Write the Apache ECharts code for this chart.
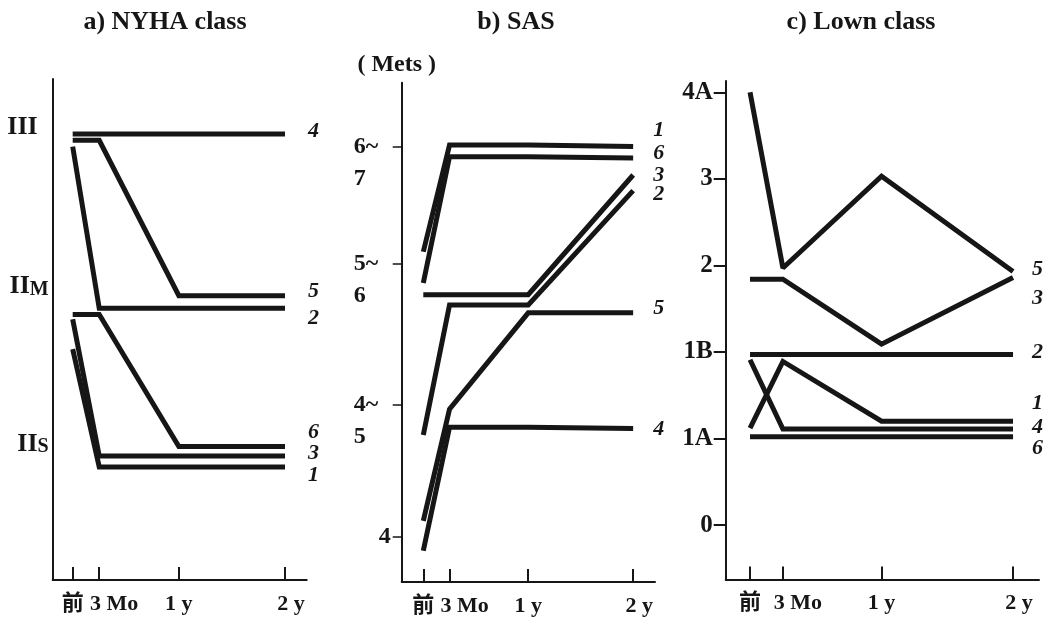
<!DOCTYPE html>
<html><head><meta charset="utf-8">
<script src="https://cdn.jsdelivr.net/npm/echarts@6/dist/echarts.min.js"></script>
<style>html,body{margin:0;padding:0;background:#fff}#c{width:1049px;height:617px}</style>
</head><body><div id="c"></div>
<script>
// ---- data ----
const months = [0, 3, 12, 24];
const xTickLabels = ['前', '3 Mo', '1 y', '2 y'];
const panelTitles = ['a) NYHA class', 'b) SAS', 'c) Lown class'];
const seriesNames = ['1', '2', '3', '4', '5', '6'];

const nyhaTickValues = [1, 2, 3];
const nyhaTickLabels = ['IIS', 'IIM', 'III'];
const nyha1 = [1.59, 0.84, 0.84, 0.84];
const nyha2 = [2.88, 1.85, 1.85, 1.85];
const nyha3 = [1.78, 0.91, 0.91, 0.91];
const nyha4 = [2.96, 2.96, 2.96, 2.96];
const nyha5 = [2.92, 2.92, 1.93, 1.93];
const nyha6 = [1.81, 1.81, 0.97, 0.97];

const sasTickValues = [0, 1.01, 2.1, 3];
const sasTickLabels = ['4', '4~\n5', '5~\n6', '6~\n7'];
const sasAxisName = '( Mets )';
const sas1 = [2.19, 3.01, 3.01, 3.00];
const sas2 = [0.78, 1.78, 1.78, 2.66];
const sas3 = [1.86, 1.86, 1.86, 2.78];
const sas4 = [-0.11, 0.84, 0.84, 0.83];
const sas5 = [0.12, 0.98, 1.72, 1.72];
const sas6 = [1.95, 2.92, 2.92, 2.91];

const lownTickValues = [0, 1, 2, 3, 4, 5];
const lownTickLabels = ['0', '1A', '1B', '2', '3', '4A'];
const lown1 = [1.12, 1.89, 1.20, 1.20];
const lown2 = [1.97, 1.97, 1.97, 1.97];
const lown3 = [2.84, 2.84, 2.09, 2.86];
const lown4 = [1.91, 1.11, 1.11, 1.11];
const lown5 = [5.00, 2.97, 4.03, 2.93];
const lown6 = [1.02, 1.02, 1.02, 1.02];

// ---- layout / style ----
const SERIF = '"Liberation Serif", "Times New Roman", "Noto Sans CJK JP", serif';
const INK = '#161616';
const panels = [
  { grid: {left: 52.7, top: 79, width: 254, height: 501},
    x: [-2.26, 26.45], y: [0.12, 3.31],
    series: [nyha1, nyha2, nyha3, nyha4, nyha5, nyha6],
    endDx: 23, endDy: [8, 10, -3, -3, -4, -14],
    ticks: nyhaTickValues, labels: nyhaTickLabels, kind: 'nyha', titleX: 165 },
  { grid: {left: 401.7, top: 82.7, width: 253.3, height: 500.3},
    x: [-2.47, 26.5], y: [-0.35, 3.49],
    series: [sas1, sas2, sas3, sas4, sas5, sas6],
    endDx: 20, endDy: [-16, 4, 0, 1, -5, -5],
    ticks: sasTickValues, labels: sasTickLabels, kind: 'sas', titleX: 516 },
  { grid: {left: 725.7, top: 81, width: 313.3, height: 498.6},
    x: [-2.22, 26.37], y: [-0.63, 5.13],
    series: [lown1, lown2, lown3, lown4, lown5, lown6],
    endDx: 19, endDy: [-18, -2, 21, -2, -2, 12],
    ticks: lownTickValues, labels: lownTickLabels, kind: 'lown', titleX: 861 }
];
const xLabelStyleKey = ['c', 'm', 'c', 't'];

function xAxisFor(p, i) {
  return {
    type: 'value', gridIndex: i, min: p.x[0], max: p.x[1],
    axisLine: {show: true, onZero: false, lineStyle: {color: INK, width: 2}},
    axisTick: {show: true, inside: true, length: 13, customValues: months,
               lineStyle: {color: INK, width: 2}},
    splitLine: {show: false},
    axisLabel: {
      customValues: months, margin: 13, color: INK,
      fontFamily: SERIF, fontWeight: 'bold', fontSize: 22,
      formatter: function (v) {
        const k = months.indexOf(v);
        if (k < 0) return '';
        return '{' + xLabelStyleKey[k] + '|' + xTickLabels[k] + '}';
      },
      rich: {
        c: {fontFamily: SERIF, fontWeight: 'bold', fontSize: 22, color: INK},
        m: {fontFamily: SERIF, fontWeight: 'bold', fontSize: 22, color: INK, padding: [0, 0, 0, 30]},
        t: {fontFamily: SERIF, fontWeight: 'bold', fontSize: 22, color: INK, padding: [0, 0, 0, 12]}
      }
    }
  };
}

function yAxisFor(p, i) {
  const base = {
    type: 'value', gridIndex: i, min: p.y[0], max: p.y[1],
    axisLine: {show: true, onZero: false, lineStyle: {color: INK, width: 2}},
    splitLine: {show: false}
  };
  const fmt = function (v) {
    let k = -1;
    for (let j = 0; j < p.ticks.length; j++) if (Math.abs(p.ticks[j] - v) < 1e-6) k = j;
    if (k < 0) return '';
    const s = p.labels[k];
    if (p.kind === 'nyha') {
      if (s === 'III') return '{bp|III}';
      return '{b|II}{s|' + s.slice(2) + '}';
    }
    if (p.kind === 'sas') {
      if (s.indexOf('\n') < 0) return '{o|' + s + '}';
      const parts = s.split('\n');
      return '{w| }\n{w|' + parts[0] + '}\n{w|' + parts[1] + '}';
    }
    return s;
  };
  if (p.kind === 'nyha') {
    base.axisTick = {show: false};
    base.axisLabel = {customValues: p.ticks, margin: 4, formatter: fmt,
      rich: {
        b: {fontFamily: SERIF, fontWeight: 'bold', fontSize: 26, color: INK, verticalAlign: 'bottom', lineHeight: 30},
        bp: {fontFamily: SERIF, fontWeight: 'bold', fontSize: 26, color: INK, padding: [0, 11, 0, 0]},
        s: {fontFamily: SERIF, fontWeight: 'bold', fontSize: 20, color: INK, verticalAlign: 'bottom', lineHeight: 28}
      }};
  } else if (p.kind === 'sas') {
    base.name = sasAxisName;
    base.nameLocation = 'end';
    base.nameGap = 6;
    base.nameTextStyle = {fontFamily: SERIF, fontWeight: 'bold', fontSize: 24, color: INK, padding: [0, 10, 0, 0]};
    base.axisTick = {show: true, length: 9, customValues: p.ticks, lineStyle: {color: INK, width: 1.5}};
    base.axisLabel = {customValues: p.ticks, margin: 11, formatter: fmt,
      rich: {
        o: {fontFamily: SERIF, fontWeight: 'bold', fontSize: 24, color: INK},
        w: {fontFamily: SERIF, fontWeight: 'bold', fontSize: 24, color: INK, width: 30, align: 'left', lineHeight: 32, padding: [0, 7, 0, 0]}
      }};
  } else {
    base.axisTick = {show: true, length: 12, customValues: p.ticks, lineStyle: {color: INK, width: 2}};
    base.axisLabel = {customValues: p.ticks, margin: 13, formatter: fmt,
      fontFamily: SERIF, fontWeight: 'bold', fontSize: 25, color: INK};
  }
  return base;
}

const option = {
  backgroundColor: '#ffffff',
  animation: false,
  grid: panels.map(p => Object.assign({containLabel: false}, p.grid)),
  xAxis: panels.map(xAxisFor),
  yAxis: panels.map(yAxisFor),
  graphic: panels.map((p, i) => ({
    type: 'text', x: p.titleX, y: 22,
    style: {text: panelTitles[i], fill: INK, font: 'bold 26px ' + SERIF,
            textAlign: 'center', textVerticalAlign: 'middle'}
  })),
  series: []
};

panels.forEach((p, i) => {
  p.series.forEach((vals, j) => {
    option.series.push({
      type: 'line', name: seriesNames[j], xAxisIndex: i, yAxisIndex: i,
      data: vals.map((v, k) => [months[k], v]),
      symbol: 'none', silent: true,
      lineStyle: {color: INK, width: 5, cap: 'butt', join: 'miter', miterLimit: 2},
      endLabel: {show: true, formatter: '{a}', distance: 0,
        offset: [p.endDx, p.endDy[j]],
        fontFamily: SERIF, fontStyle: 'italic', fontWeight: 'bold', fontSize: 22, color: INK}
    });
  });
});

const chart = echarts.init(document.getElementById('c'), null, {renderer: 'canvas'});
chart.setOption(option);
</script></body></html>
